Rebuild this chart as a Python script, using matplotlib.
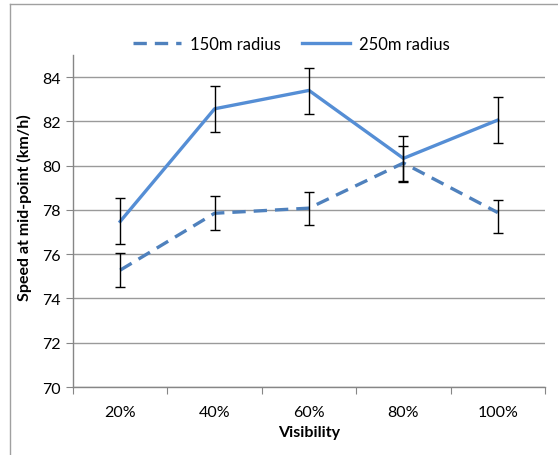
import numpy as np
import matplotlib.pyplot as plt
from matplotlib.lines import Line2D

plt.rcParams['font.family'] = ['Lato', 'DejaVu Sans']

# data
visibility = ["20%", "40%", "60%", "80%", "100%"]
speed_150 = [75.28, 77.85, 78.08, 80.12, 77.88]
err_150_lo = [0.78, 0.77, 0.77, 0.86, 0.93]
err_150_hi = [0.77, 0.77, 0.73, 0.77, 0.59]
speed_250 = [77.48, 82.57, 83.40, 80.33, 82.06]
err_250_lo = [1.00, 1.05, 1.05, 1.02, 1.04]
err_250_hi = [1.08, 1.02, 1.02, 1.01, 1.04]

fig = plt.figure(figsize=(5.58, 4.56), dpi=100)
ax = fig.add_axes([73 / 558, 1 - 388 / 456, 472 / 558, 332 / 456])

x = np.arange(len(visibility))
grid_c = "#9a9a9a"
axis_c = "#868686"

ax.plot(x, speed_150, color="#4F81BD", lw=2.4, linestyle=(0, (4, 2.4)),
        label="150m radius", zorder=3)
ax.plot(x, speed_250, color="#558ED5", lw=2.4, label="250m radius", zorder=3)
ax.errorbar(x, speed_150, yerr=[err_150_lo, err_150_hi], fmt="none", ecolor="black",
            elinewidth=1.0, capsize=3.5, capthick=1.0, zorder=4)
ax.errorbar(x, speed_250, yerr=[err_250_lo, err_250_hi], fmt="none", ecolor="black",
            elinewidth=1.0, capsize=3.5, capthick=1.0, zorder=4)

ax.set_ylim(70, 85)
ax.set_yticks(np.arange(70, 85, 2))
ax.set_xlim(-0.5, len(visibility) - 0.5)
ax.set_xticks(np.arange(-0.5, len(visibility), 1))
ax.set_xticklabels([])
ax.set_xticks(x, minor=True)
ax.set_xticklabels(visibility, minor=True)
ax.tick_params(axis="x", which="minor", length=0, pad=13, labelsize=11.5)
ax.tick_params(axis="x", which="major", length=5, color=axis_c, direction="out")
ax.tick_params(axis="y", length=5, color=axis_c, direction="out", labelsize=11.5, pad=4)

ax.grid(axis="y", color=grid_c, lw=1.0)
ax.set_axisbelow(True)
for s in ["top", "right"]:
    ax.spines[s].set_visible(False)
for s in ["left", "bottom"]:
    ax.spines[s].set_color(axis_c)
    ax.spines[s].set_linewidth(1.0)

ax.set_xlabel("Visibility", fontweight="bold", fontsize=11.5, labelpad=4)
ax.set_ylabel("Speed at mid-point (km/h)", fontweight="bold", fontsize=11.5)
ax.yaxis.set_label_coords(-0.087, 0.542)

fig.legend(loc="center", bbox_to_anchor=(0.522, 1 - 45 / 456), ncol=2,
           frameon=False, fontsize=12, handlelength=2.9, columnspacing=1.3,
           handletextpad=0.5)

# outer chart border
fig.add_artist(Line2D([10 / 558, 10 / 558], [0, 1 - 5 / 456], color="#a0a0a0", lw=1.0))
fig.add_artist(Line2D([10 / 558, 1], [1 - 5 / 456, 1 - 5 / 456], color="#a0a0a0", lw=1.0))

fig.savefig("out.png", dpi=100)
